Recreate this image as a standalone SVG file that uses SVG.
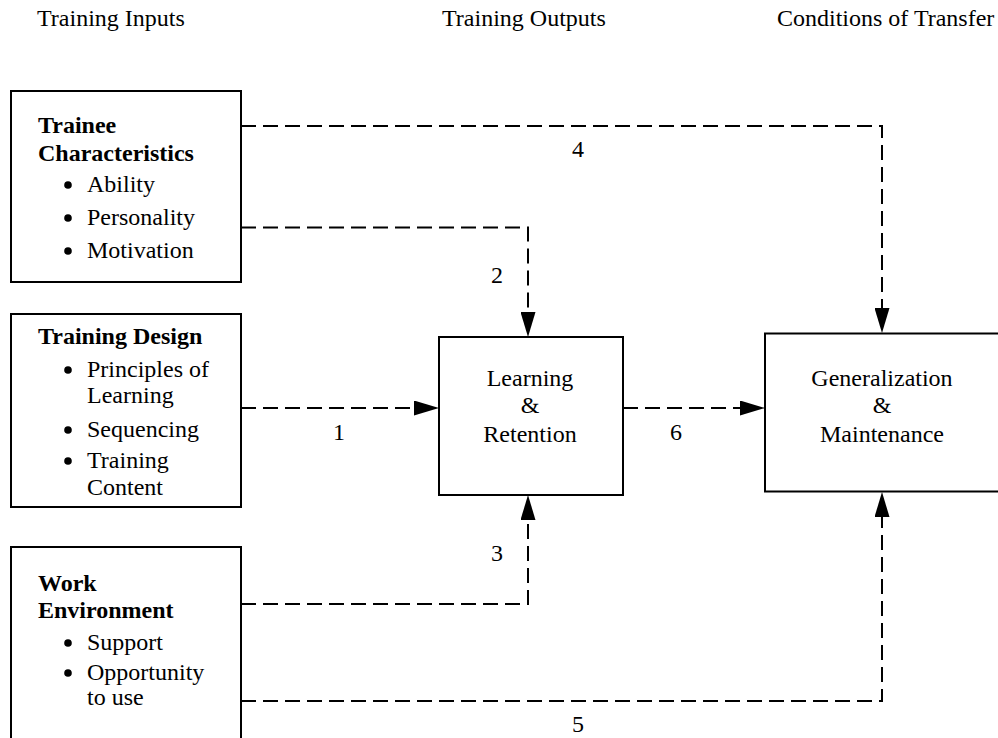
<svg xmlns="http://www.w3.org/2000/svg" width="998" height="738" viewBox="0 0 998 738">
<style>
text{font-family:"Liberation Serif","Times New Roman",serif;font-size:24px;fill:#000}
.b{font-weight:bold}
.m{text-anchor:middle}
.box{fill:#fff;stroke:#000;stroke-width:2}
.c{fill:none;stroke:#000;stroke-width:2;stroke-dasharray:15 7}
.dot{fill:#000}
</style>
<defs>
<marker id="ah" markerUnits="userSpaceOnUse" markerWidth="25" markerHeight="15" refX="0" refY="7.5" orient="auto">
<path d="M0,0 L25,7.5 L0,15 z" fill="#000"/>
</marker>
</defs>
<rect width="998" height="738" fill="#fff"/>
<g id="headers">
<text x="37" y="26">Training Inputs</text>
<text x="442" y="26">Training Outputs</text>
<text x="777" y="26">Conditions of Transfer</text>
</g>
<g id="connectors">
<path class="c" d="M241,126 H882 V308" marker-end="url(#ah)"/>
<path class="c" d="M241,227.5 H528 V312" marker-end="url(#ah)"/>
<path class="c" d="M241,408 H414" marker-end="url(#ah)"/>
<path class="c" d="M623,408 H740" marker-end="url(#ah)"/>
<path class="c" d="M241,604 H528 V520" marker-end="url(#ah)"/>
<path class="c" d="M241,701 H882 V517" marker-end="url(#ah)"/>
<text class="m" x="578" y="157">4</text>
<text class="m" x="497" y="283">2</text>
<text class="m" x="339" y="440">1</text>
<text class="m" x="676" y="440">6</text>
<text class="m" x="497" y="561">3</text>
<text class="m" x="578" y="732">5</text>
</g>
<g id="trainee">
<rect class="box" x="11" y="91" width="230" height="191"/>
<text class="b" x="38" y="133">Trainee</text>
<text class="b" x="38" y="161">Characteristics</text>
<circle class="dot" cx="68" cy="185" r="3.8"/><text x="87" y="192">Ability</text>
<circle class="dot" cx="68" cy="218" r="3.8"/><text x="87" y="225">Personality</text>
<circle class="dot" cx="68" cy="251" r="3.8"/><text x="87" y="258">Motivation</text>
</g>
<g id="design">
<rect class="box" x="11" y="314" width="230" height="193"/>
<text class="b" x="38" y="344">Training Design</text>
<circle class="dot" cx="68" cy="370" r="3.8"/><text x="87" y="377">Principles of</text>
<text x="87" y="403">Learning</text>
<circle class="dot" cx="68" cy="430" r="3.8"/><text x="87" y="437">Sequencing</text>
<circle class="dot" cx="68" cy="461" r="3.8"/><text x="87" y="468">Training</text>
<text x="87" y="495">Content</text>
</g>
<g id="environment">
<rect class="box" x="11" y="547" width="230" height="200"/>
<text class="b" x="38" y="591">Work</text>
<text class="b" x="38" y="618">Environment</text>
<circle class="dot" cx="68" cy="643" r="3.8"/><text x="87" y="650">Support</text>
<circle class="dot" cx="68" cy="673" r="3.8"/><text x="87" y="680">Opportunity</text>
<text x="87" y="705">to use</text>
</g>
<g id="learning">
<rect class="box" x="439" y="337" width="184" height="158"/>
<text class="m" x="530" y="386">Learning</text>
<text class="m" x="530" y="413">&amp;</text>
<text class="m" x="530" y="442">Retention</text>
</g>
<g id="generalization">
<rect class="box" x="765" y="333.5" width="250" height="158"/>
<text class="m" x="882" y="386">Generalization</text>
<text class="m" x="882" y="413">&amp;</text>
<text class="m" x="882" y="442">Maintenance</text>
</g>
</svg>
